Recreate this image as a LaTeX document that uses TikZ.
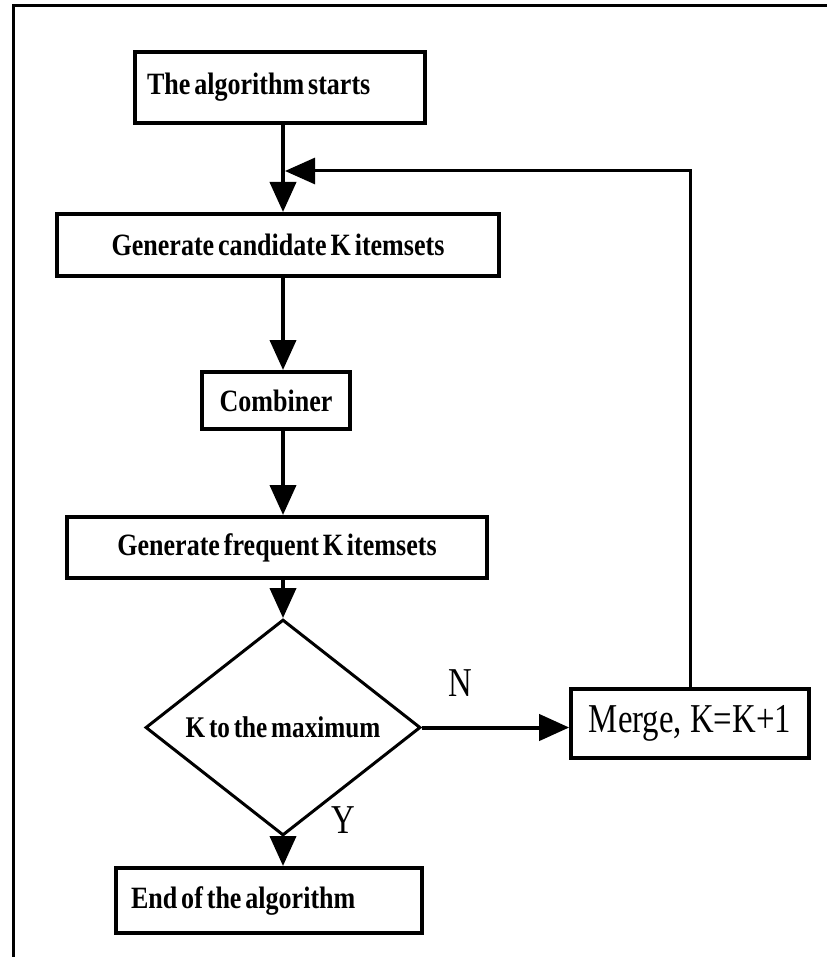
\documentclass[tikz,border=0pt]{standalone}
\usepackage{fontspec}
\setmainfont{Liberation Serif}
\newfontfamily\boxfont{Liberation Serif}[FakeStretch=0.84,WordSpace=0.6]
\newfontfamily\mergefont{Liberation Serif}[FakeStretch=0.8]
\usetikzlibrary{arrows.meta,shapes.geometric}

\begin{document}
\begin{tikzpicture}[x=0.5pt,y=-0.5pt,>={Triangle[length=15pt,width=13pt]},
                    line width=2pt,
                    box/.style={draw,rectangle,inner sep=0pt,
                                font=\boxfont\bfseries\fontsize{15.5pt}{18pt}\selectfont},
                    decision/.style={draw,diamond,inner sep=0pt,line width=1.5pt,
                                font=\boxfont\bfseries\fontsize{15pt}{18pt}\selectfont},
                    plain/.style={font=\mergefont\fontsize{20.5pt}{24pt}\selectfont}]
\useasboundingbox (0,0) rectangle (827,957);

% frame
\draw[line width=1.5pt] (13,957) -- (13,6) -- (827,6);

\node[box,minimum width=145pt,minimum height=35.5pt] (start) at (280,87.5) {\makebox[133pt][l]{The algorithm starts}};
\node[box,minimum width=221pt,minimum height=31pt] (cand) at (278,245) {Generate candidate K itemsets};
\node[box,minimum width=74pt,minimum height=28.5pt] (comb) at (276,400.5) {Combiner};
\node[box,minimum width=210pt,minimum height=30.5pt] (freq) at (277,547.5) {Generate frequent K itemsets};
\node[decision,minimum width=137.5pt,minimum height=75.5pt] (dec) at (283,727.5) {K to the maximum};
\node[box,minimum width=153pt,minimum height=32.5pt] (done) at (269,900.5) {\makebox[138pt][l]{End of the algorithm}};
\node[box,plain,line width=1.8pt,minimum width=119pt,minimum height=34.5pt] (merge) at (690,723.5) {Merge, K=K+1};
\node[plain] (no) at (460,683) {N};
\node[plain] (yes) at (343,820) {Y};
\coordinate (back) at (283,171);

\draw[->] (start.south -| dec.north) -- (cand.north -| dec.north);
\draw[->] (cand.south -| dec.north) -- (comb.north -| dec.north);
\draw[->] (comb.south -| dec.north) -- (freq.north -| dec.north);
\draw[->] (freq.south -| dec.north) -- (dec.north);
\draw[->] (dec.south) -- (dec.south |- done.north);
\draw[->] (dec.east) -- (dec.east -| merge.west);
\draw[->,line width=1.5pt,shorten >=1pt] (merge.north) |- (back);
\end{tikzpicture}
\end{document}
